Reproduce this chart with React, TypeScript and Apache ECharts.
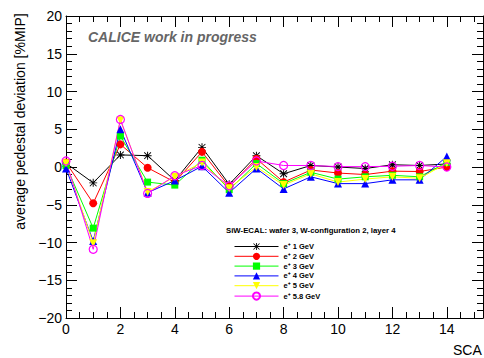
import React, { useEffect, useRef } from "react";
import * as echarts from "echarts";

const SCA = [0, 1, 2, 3, 4, 5, 6, 7, 8, 9, 10, 11, 12, 13, 14];
const e1GeV = [0.5, -2.1, 1.6, 1.5, -1.8, 2.6, -2.3, 1.5, -0.9, 0.2, 0.0, -0.2, 0.3, 0.2, 0.4];
const e2GeV = [0.6, -4.8, 3.0, -0.1, -2.0, 2.0, -2.6, 1.1, -2.0, -0.4, -0.8, -1.0, -0.55, -0.6, 0.0];
const e3GeV = [0.2, -8.1, 4.1, -2.0, -2.4, 0.9, -3.0, 0.45, -2.2, -0.7, -1.6, -1.3, -1.1, -1.3, 0.6];
const e4GeV = [-0.2, -9.8, 5.0, -3.4, -1.8, 0.1, -3.4, -0.2, -2.9, -1.3, -2.2, -2.2, -1.7, -1.7, 1.4];
const e5GeV = [0.5, -10.1, 6.2, -3.3, -1.3, 0.6, -2.8, 0.0, -2.4, -0.9, -2.0, -1.6, -1.3, -1.5, 0.5];
const e58GeV = [0.8, -10.9, 6.3, -3.5, -1.15, 0.2, -2.5, 0.8, 0.2, 0.2, 0.05, 0.05, 0.1, 0.2, 0.0];

const seriesNames = ["e⁺ 1 GeV", "e⁺ 2 GeV", "e⁺ 3 GeV", "e⁺ 4 GeV", "e⁺ 5 GeV", "e⁺ 5.8 GeV"];
const Y_MIN = -20;
const Y_MAX = 20;
const X_MIN = 0;
const X_MAX = 15.33;

const ASTERISK =
  "path://M0 4.4 L10 4.4 L10 5.6 L0 5.6 Z M4.4 0 L5.6 0 L5.6 10 L4.4 10 Z " +
  "M1.2 0.4 L9.6 8.8 L8.8 9.6 L0.4 1.2 Z M8.8 0.4 L9.6 1.2 L1.2 9.6 L0.4 8.8 Z";

const FONT = "'Liberation Sans', Arial, Helvetica, sans-serif";

function pairs(vals: number[]) {
  return SCA.map((x, i) => [x, vals[i]]);
}

function minus(v: number) {
  return v < 0 ? "\u2212" + Math.abs(v) : String(v);
}

export default function App() {
  const ref = useRef<HTMLDivElement>(null);
  useEffect(() => {
    if (!ref.current) return;
    const chart = echarts.init(ref.current, null, { renderer: "svg" });

    const xBase = (position: string, interval: number, major: boolean, labels: boolean) => ({
      type: "value",
      min: X_MIN,
      max: X_MAX,
      interval,
      position,
      axisLine: { show: major, onZero: false, lineStyle: { color: "#000", width: 1 } },
      axisTick: { show: true, inside: true, length: major ? 11 : 6, lineStyle: { color: "#000", width: 1 } },
      axisLabel: labels
        ? {
            show: true,
            margin: 4,
            fontSize: 14,
            color: "#000",
            fontFamily: FONT,
            showMaxLabel: false,
            formatter: (v: number) => (v % 2 === 0 ? String(v) : ""),
          }
        : { show: false },
      splitLine: { show: false },
    });

    const yBase = (position: string, labels: boolean) => ({
      type: "value",
      min: Y_MIN,
      max: Y_MAX,
      interval: 5,
      position,
      axisLine: { show: true, onZero: false, lineStyle: { color: "#000", width: 1 } },
      axisTick: { show: true, inside: true, length: 11, lineStyle: { color: "#000", width: 1 } },
      minorTick: { show: true, splitNumber: 5, length: 6, lineStyle: { color: "#000", width: 1 } },
      axisLabel: labels
        ? { show: true, margin: 4, fontSize: 14, color: "#000", fontFamily: FONT, formatter: minus }
        : { show: false },
      splitLine: { show: false },
    });

    const mk = (name: string, vals: number[], color: string, symbol: string, size: number, extra: any = {}) => ({
      name,
      type: "line",
      data: pairs(vals),
      xAxisIndex: 0,
      yAxisIndex: 0,
      symbol,
      symbolSize: size,
      showAllSymbol: true,
      lineStyle: { color, width: 1 },
      itemStyle: { color },
      emphasis: { disabled: true },
      ...extra,
    });

    chart.setOption({
      animation: false,
      backgroundColor: "#fff",
      grid: { left: 66, right: 1, top: 16, bottom: 40, containLabel: false },
      xAxis: [
        xBase("bottom", 2, true, true),
        xBase("bottom", 0.5, false, false),
        xBase("top", 2, true, false),
        xBase("top", 0.5, false, false),
      ],
      yAxis: [yBase("left", true), yBase("right", false)],
      legend: {
        orient: "vertical",
        left: 229,
        top: 237.5,
        itemWidth: 44,
        itemHeight: 9,
        itemGap: 1.8,
        selectedMode: false,
        lineStyle: { width: 1 },
        textStyle: { fontSize: 7.5, fontWeight: "bold", fontFamily: FONT, color: "#000" },
        data: seriesNames,
      },
      series: [
        mk(seriesNames[0], e1GeV, "#000000", ASTERISK, 8),
        mk(seriesNames[1], e2GeV, "#ff0000", "circle", 8),
        mk(seriesNames[2], e3GeV, "#00ff00", "rect", 7),
        mk(seriesNames[3], e4GeV, "#0000ff", "triangle", 8),
        mk(seriesNames[4], e5GeV, "#ffff00", "triangle", 8, { symbolRotate: 180 }),
        mk(seriesNames[5], e58GeV, "#ff00ff", "circle", 8, {
          itemStyle: { color: "rgba(255,255,255,0)", borderColor: "#ff00ff", borderWidth: 1.2 },
        }),
      ],
      graphic: [
        {
          type: "text",
          left: 88,
          top: 29.5,
          style: {
            text: "CALICE work in progress",
            font: "italic bold 14px " + FONT,
            fill: "#666666",
          },
        },
        {
          type: "text",
          left: 226,
          top: 226,
          style: {
            text: "SiW-ECAL: wafer 3, W-configuration 2, layer 4",
            font: "bold 7.8px " + FONT,
            fill: "#000",
          },
        },
        {
          type: "text",
          x: 20,
          y: 121.5,
          rotation: Math.PI / 2,
          style: {
            text: "average pedestal deviation [%MIP]",
            font: "14px " + FONT,
            fill: "#000",
            align: "center",
            verticalAlign: "middle",
            textAlign: "center",
            textVerticalAlign: "middle",
          },
        },
        {
          type: "text",
          left: 453,
          top: 343,
          style: { text: "SCA", font: "14px " + FONT, fill: "#000" },
        },
      ],
    });
    return () => chart.dispose();
  }, []);
  return (
    <div
      ref={ref}
      style={{ position: "fixed", left: 0, top: 0, width: 484, height: 358 }}
    />
  );
}
